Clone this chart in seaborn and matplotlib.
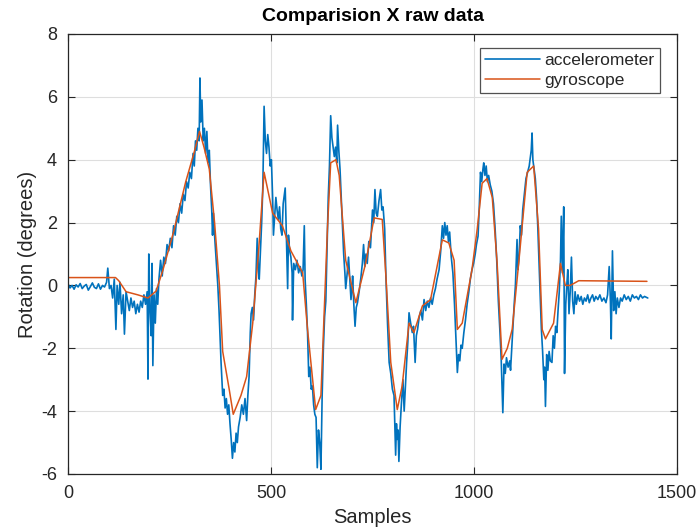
import numpy as np
import pandas as pd
import matplotlib
matplotlib.use("Agg")
import matplotlib.pyplot as plt
import seaborn as sns

# Accelerometer-derived rotation (sample index, degrees)
acc_x = [0, 5, 10, 15, 20, 25, 30, 35, 40, 45, 50, 55, 60, 65, 70, 75, 80, 85, 90, 95,
         98, 102, 106, 110, 114, 118, 121, 125, 128, 132, 136, 139, 143, 147, 151, 155, 159,
         163, 167, 171, 175, 179, 183, 187, 191, 195, 197, 199, 202, 205, 207, 209, 212, 215,
         218, 221, 224, 228, 232, 236, 240, 244, 248, 252, 256, 260, 264, 268, 272, 276, 280,
         284, 288, 292, 296, 300, 304, 308, 311, 314, 317, 320, 323, 325, 327, 330, 333, 336,
         339, 342, 345, 348, 351, 354, 356, 358, 360, 363, 366, 369, 372, 375, 377, 379, 381,
         384, 387, 390, 393, 396, 399, 402, 405, 408, 411, 414, 417, 420, 424, 428, 432, 436,
         440, 443, 446, 449, 451, 454, 457, 460, 463, 466, 469, 471, 474, 477, 480, 483, 486,
         489, 492, 495, 498, 501, 504, 506, 509, 512, 515, 518, 521, 524, 527, 530, 533, 535,
         538, 541, 543, 546, 549, 552, 553, 556, 560, 564, 568, 572, 576, 579, 582, 584, 587,
         590, 593, 596, 599, 602, 605, 608, 611, 614, 617, 620, 623, 626, 629, 632, 635, 638,
         641, 644, 647, 650, 653, 656, 659, 662, 664, 667, 670, 673, 676, 679, 682, 684, 687,
         691, 694, 697, 700, 701, 704, 707, 710, 713, 717, 721, 725, 728, 731, 734, 737, 741,
         745, 750, 753, 756, 759, 762, 766, 770, 773, 776, 780, 783, 787, 791, 795, 799, 803,
         807, 809, 811, 813, 815, 818, 821, 825, 828, 831, 834, 837, 840, 844, 848, 851, 855,
         858, 861, 865, 869, 873, 877, 881, 885, 889, 893, 897, 901, 905, 909, 914, 918, 922,
         925, 928, 931, 934, 937, 940, 944, 948, 952, 955, 959, 962, 965, 968, 971, 975, 979,
         983, 987, 991, 995, 999, 1003, 1006, 1010, 1013, 1016, 1019, 1022, 1024, 1027, 1030,
         1033, 1036, 1040, 1044, 1048, 1052, 1056, 1060, 1064, 1067, 1071, 1074, 1077, 1080,
         1084, 1088, 1090, 1093, 1096, 1099, 1102, 1106, 1108, 1111, 1114, 1117, 1120, 1124,
         1128, 1132, 1136, 1139, 1141, 1143, 1145, 1148, 1151, 1154, 1157, 1160, 1163, 1166,
         1169, 1172, 1174, 1176, 1179, 1182, 1185, 1188, 1192, 1195, 1198, 1201, 1204, 1207,
         1210, 1213, 1215, 1218, 1221, 1223, 1226, 1229, 1231, 1234, 1237, 1240, 1243, 1246,
         1249, 1252, 1256, 1260, 1264, 1268, 1272, 1276, 1280, 1284, 1288, 1292, 1296, 1300,
         1305, 1310, 1315, 1320, 1325, 1329, 1333, 1336, 1338, 1341, 1344, 1347, 1350, 1353,
         1357, 1361, 1365, 1370, 1375, 1380, 1385, 1390, 1395, 1400, 1405, 1410, 1415, 1420,
         1428]
acc_y = [0.05, -0.08, 0.0, -0.12, 0.02, -0.05, 0.06, -0.1, -0.02, 0.03, -0.15, -0.04, 0.08,
         -0.06, -0.1, 0.05, -0.12, 0.0, -0.05, 0.1,
         0.55, -0.1, 0.0, -0.4, 0.2, -1.4, 0.0, -0.6, 0.1, -0.9, -0.3, -1.55, -0.2, -0.5, -0.8,
         -0.4, -0.7, -0.5, -0.9, -0.6, -0.85, -0.5, -0.7, -0.3, -0.6, -0.2, -2.98, 1.0, -0.8,
         -1.6, 0.7, -2.55, -0.3, -1.2, -0.1, -0.6, 0.2, 0.8, 0.3, 0.9, 0.7, 1.3, 1.1, 1.5, 1.2,
         1.9, 1.6, 2.2, 2.0, 2.6, 2.3, 2.9, 2.7, 3.3, 3.1, 3.6, 3.4, 4.2, 3.8, 4.6, 4.3, 5.0,
         4.6, 6.6, 5.2, 5.9, 4.6, 5.0, 4.2, 4.9, 3.9, 4.3, 3.2, 2.4, 1.6, 2.3, 1.8, 1.2, 0.6,
         0.0, -0.8, -1.8, -2.45, -3.0, -3.5, -3.3, -3.9, -3.6, -4.1, -3.8, -4.4, -4.9, -5.5,
         -5.0, -5.3, -4.7, -5.0, -4.5, -4.2, -3.8, -4.1, -3.6, -4.3, -3.5, -2.9, -1.5, -0.9,
         -0.7, -1.1, -0.3, 0.3, 1.5, 0.5, 0.2, 1.1, 2.0, 3.2, 5.7, 4.6, 4.2, 4.8, 4.4, 3.8, 4.0,
         2.8, 1.6, 2.2, 2.8, 2.4, 2.1, 2.5, 1.8, 1.6, 2.6, 2.9, 3.1, 1.5, -0.1, 1.6, 1.1, 0.9,
         0.4, -1.1, 0.7, 0.5, 0.8, 0.4, 0.6, 0.3, 0.5, 1.9, 0.2, -0.6, -1.5, -2.9, -2.6, -3.3,
         -3.2, -3.8, -4.1, -4.2, -5.8, -4.6, -5.0, -5.85, -3.5, -2.0, -1.0, -0.5, 1.2, 2.8, 3.8,
         5.4, 4.7, 4.4, 4.1, 4.4, 3.9, 5.1, 4.3, 3.7, 2.8, 1.9, 1.0, 0.4, -0.1, 0.3, 0.9, 0.2,
         -0.45, 0.0, 0.3, -0.6, -1.3, -0.7, -0.55, -0.2, 0.2, 0.7, 1.3, 0.6, 1.0, 0.7, 1.4, 1.2,
         2.4, 2.0, 3.05, 2.3, 2.2, 2.7, 3.05, 2.4, 2.5, 1.8, 0.3, -1.2, -2.45, -2.8, -3.3, -3.5,
         -5.4, -4.4, -4.9, -4.6, -5.6, -4.5, -3.8, -3.0, -4.0, -3.2, -2.45, -1.8, -0.87, -1.2,
         -1.5, -1.3, -2.45, -1.6, -1.4, -1.0, -0.8, -1.1, -0.45, -0.8, -0.5, -0.7, -0.4, -0.6,
         -0.3, -0.1, 0.2, 0.5, 1.1, 1.9, 1.5, 2.0, 1.6, 1.9, 1.4, 1.7, 0.9, 0.4, -0.6, -1.5,
         -2.77, -2.2, -2.4, -1.9, -2.0, -1.5, -1.1, -0.6, -0.23, 0.2, 0.5, 0.7, 1.0, 1.3, 1.57,
         2.5, 3.6, 3.3, 3.7, 3.9, 3.5, 3.8, 3.3, 3.5, 3.2, 3.0, 2.6, 1.8, 0.8, -0.5, -1.5,
         -2.35, -4.05, -2.5, -2.8, -2.3, -2.6, -2.4, -2.7, -2.0, -1.3, -0.6, 0.0, 1.46, 0.5,
         0.9, 1.9, 1.6, 2.4, 2.9, 3.4, 3.6, 3.8, 4.1, 4.3, 4.85, 4.0, 3.7, 3.4, 2.8, 1.9, 0.8,
         -0.3, -1.4, -2.1, -3.0, -2.6, -3.85, -2.2, -2.7, -2.1, -2.4, -2.45, -1.6, -2.0, -1.3,
         -1.5, -0.8, -0.2, 0.8, 2.2, 0.4, 2.5, -2.8, -0.6, 0.1, 0.5, -0.9, -0.2, 0.9, -0.5,
         -0.9, -0.2, -0.6, -0.3, -0.5, -0.35, -0.6, -0.4, -0.5, -0.3, -0.55, -0.4, -0.3, -0.5,
         -0.35, -0.45, -0.3, -0.5, -0.4, -0.55, -0.3, 0.6, -0.5, -1.7, 1.1, -0.8, -0.2, -0.9,
         -0.4, -0.7, -0.4, -0.5, -0.3, -0.45, -0.35, -0.5, -0.3, -0.4, -0.35, -0.45, -0.3, -0.4,
         -0.35, -0.4]

# Gyroscope-integrated rotation (sample index, degrees)
gyro_x = [0, 117, 125, 143, 172, 197, 217, 234, 260, 290, 310, 324, 335, 348, 361, 373, 381,
          397, 407, 426, 440, 455, 470, 483, 504, 528, 549, 578, 590, 610, 623, 639, 647, 660,
          668, 684, 709, 733, 754, 774, 783, 795, 811, 823, 840, 852, 873, 893, 922, 938, 951,
          959, 971, 995, 1008, 1020, 1032, 1045, 1057, 1069, 1082, 1094, 1110, 1131, 1147,
          1159, 1168, 1176, 1196, 1213, 1225, 1237, 1258, 1426]
gyro_y = [0.25, 0.25, 0.15, -0.2, -0.3, -0.4, -0.18, 0.5, 1.7, 3.3, 4.2, 4.9, 4.4, 3.7, 2.0,
          0.0, -2.1, -3.3, -4.1, -3.5, -2.9, -1.2, 1.2, 3.6, 2.3, 1.9, 1.1, 0.4, -1.4, -3.95,
          -3.5, 1.8, 3.9, 4.0, 3.5, 0.8, -0.55, 0.7, 2.15, 2.1, 0.3, -2.45, -3.95, -3.2, -1.2,
          -1.5, -0.65, -0.45, 1.45, 1.35, 0.8, -1.4, -1.2, 0.5, 1.8, 3.25, 3.4, 2.8, 0.7,
          -2.35, -2.0, -1.4, 0.7, 3.6, 3.8, 1.8, -1.4, -1.7, -1.2, 0.7, 0.0, 0.0, 0.15, 0.13]

x_ticks = [0, 500, 1000, 1500]
y_ticks = [-6, -4, -2, 0, 2, 4, 6, 8]

acc_df = pd.DataFrame({"Samples": acc_x, "Rotation": acc_y})
gyro_df = pd.DataFrame({"Samples": gyro_x, "Rotation": gyro_y})

sns.set_theme(style="white")
plt.rcParams["font.family"] = ["Liberation Sans", "DejaVu Sans"]
plt.rcParams["axes.unicode_minus"] = False

text_color = "#262626"

fig = plt.figure(figsize=(6.97, 5.28), dpi=100)
ax = fig.add_axes([68 / 697, 1 - 474 / 528, (677 - 68) / 697, (474 - 34) / 528])

sns.lineplot(data=acc_df, x="Samples", y="Rotation", ax=ax, color="#0072BD",
             linewidth=1.2, estimator=None, sort=False, label="accelerometer")
sns.lineplot(data=gyro_df, x="Samples", y="Rotation", ax=ax, color="#D95319",
             linewidth=1.1, estimator=None, sort=False, label="gyroscope")

ax.set_xlim(0, 1500)
ax.set_ylim(-6, 8)
ax.set_xticks(x_ticks)
ax.set_yticks(y_ticks)
ax.grid(True, color="#dedede", linewidth=0.8)
ax.set_axisbelow(True)
for sp in ax.spines.values():
    sp.set_color(text_color)
    sp.set_linewidth(0.9)
    sp.set_visible(True)
ax.tick_params(direction="in", length=5, width=0.8, colors=text_color, pad=8,
               labelsize=13, top=True, right=True, bottom=True, left=True,
               labeltop=False, labelright=False)
ax.set_xlabel("Samples", fontsize=14.5, color=text_color, labelpad=4)
ax.set_ylabel("Rotation (degrees)", fontsize=14.5, color=text_color, labelpad=3)
ax.set_title("Comparision X raw data", fontsize=14, fontweight="bold",
             color="black", pad=9)

leg = ax.legend(loc="upper right", fontsize=12.5, handlelength=3.2, handletextpad=0.25,
                borderpad=0.3, labelspacing=0.25, frameon=True, fancybox=False,
                bbox_to_anchor=(0.972, 0.968), borderaxespad=0)
leg.get_frame().set_edgecolor(text_color)
leg.get_frame().set_linewidth(0.9)
for t in leg.get_texts():
    t.set_color(text_color)

fig.savefig("out.png", dpi=100)
